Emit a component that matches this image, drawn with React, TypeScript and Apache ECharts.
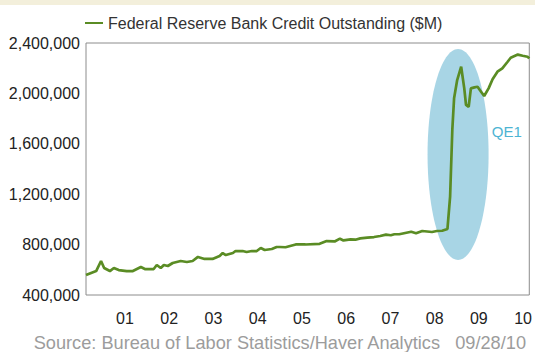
import React, { useEffect, useRef } from "react";
import * as echarts from "echarts";

const seriesName = "Federal Reserve Bank Credit Outstanding ($M)";
const sourceText = "Source: Bureau of Labor Statistics/Haver Analytics   09/28/10";
const yearTicks = [2001, 2002, 2003, 2004, 2005, 2006, 2007, 2008, 2009, 2010];

const years = [
  2000.12, 2000.25, 2000.35, 2000.46, 2000.53, 2000.66, 2000.75, 2000.86,
  2001.04, 2001.18, 2001.36, 2001.45, 2001.65, 2001.72, 2001.81, 2001.88, 2001.97,
  2002.08, 2002.26, 2002.4, 2002.53, 2002.65, 2002.8, 2002.98,
  2003.14, 2003.21, 2003.28, 2003.44, 2003.5, 2003.66, 2003.75, 2003.87, 2003.98,
  2004.07, 2004.16, 2004.32, 2004.43, 2004.5, 2004.63, 2004.86,
  2005.08, 2005.4, 2005.56, 2005.74, 2005.86, 2005.94,
  2006.1, 2006.21, 2006.32, 2006.48, 2006.63, 2006.77, 2006.9,
  2007.01, 2007.09, 2007.2, 2007.47, 2007.58, 2007.72, 2007.94,
  2008.05, 2008.17, 2008.29, 2008.35, 2008.4, 2008.44, 2008.51, 2008.6, 2008.67,
  2008.71, 2008.77, 2008.82, 2008.9, 2008.97,
  2009.05, 2009.12, 2009.22, 2009.31, 2009.42, 2009.53, 2009.65, 2009.72, 2009.88, 2009.99,
  2010.1, 2010.14,
];

const credit = [
  558000, 577000, 590000, 670000, 614000, 590000, 614000, 598000,
  590000, 590000, 622000, 606000, 606000, 638000, 614000, 638000, 630000,
  654000, 670000, 662000, 670000, 702000, 686000, 686000,
  710000, 733000, 717000, 733000, 749000, 749000, 741000, 749000, 749000,
  773000, 757000, 765000, 781000, 781000, 779000, 801000,
  801000, 806000, 828000, 825000, 847000, 833000,
  841000, 839000, 849000, 855000, 860000, 868000, 879000,
  874000, 882000, 882000, 902000, 890000, 908000, 900000,
  908000, 910000, 924000, 1180000, 1710000, 1961000, 2106000, 2212000, 2040000,
  1908000, 1894000, 2040000, 2048000, 2053000,
  2013000, 1979000, 2040000, 2112000, 2172000, 2199000, 2251000, 2283000, 2308000, 2299000,
  2291000, 2278000,
];

// QE1 highlight: centre (year, value), radii (years, value), label position
const qeEllipse = [2008.53, 1515000, 0.69, 837000];
const qeLabel = { text: "QE1", year: 2009.63, value: 1698000 };

export default function App() {
  const ref = useRef<HTMLDivElement>(null);

  useEffect(() => {
    if (!ref.current) return;
    const chart = echarts.init(ref.current, null, { renderer: "svg" });
    const lineData = years.map((y, i) => [y, credit[i]]);

    chart.setOption({
      animation: false,
      backgroundColor: "#ffffff",
      textStyle: { fontFamily: "Liberation Sans, Arial, sans-serif" },
      graphic: [
        {
          type: "rect",
          left: 0,
          top: 0,
          shape: { width: 535, height: 5 },
          style: { fill: "#f3efdb" },
          silent: true,
        },
        {
          type: "text",
          right: 8,
          top: 334,
          style: {
            text: sourceText,
            fill: "#9c9c9c",
            fontSize: 18.2,
            fontFamily: "Liberation Sans, Arial, sans-serif",
          },
        },
      ],
      legend: {
        data: [seriesName],
        left: 80,
        top: 10,
        icon: "rect",
        itemWidth: 18,
        itemHeight: 2,
        textStyle: { fontSize: 16, color: "#333333" },
      },
      grid: {
        left: 86,
        top: 43,
        width: 444,
        height: 252,
        show: true,
        borderColor: "#8c8c8c",
        borderWidth: 1,
        backgroundColor: "#ffffff",
      },
      xAxis: {
        type: "value",
        min: years[0],
        max: years[years.length - 1],
        axisLine: { show: false },
        axisTick: { show: false },
        splitLine: { show: false },
        axisLabel: {
          customValues: yearTicks,
          formatter: (v: number) => String(Math.round(v) % 100).padStart(2, "0"),
          fontSize: 16,
          color: "#222222",
          margin: 15,
        },
      },
      yAxis: {
        type: "value",
        min: 400000,
        max: 2400000,
        interval: 400000,
        axisLine: { show: false },
        axisTick: { show: false },
        splitLine: { show: false },
        axisLabel: {
          fontSize: 16,
          color: "#222222",
          margin: 6,
          formatter: (v: number) => v.toLocaleString("en-US"),
        },
      },
      series: [
        {
          type: "custom",
          z: 1,
          silent: true,
          data: [qeEllipse],
          renderItem: (params: any, api: any) => {
            const c = api.coord([api.value(0), api.value(1)]);
            const s = api.size([api.value(2), api.value(3)]);
            const lp = api.coord([qeLabel.year, qeLabel.value]);
            return {
              type: "group",
              children: [
                {
                  type: "ellipse",
                  shape: { cx: c[0], cy: c[1], rx: s[0], ry: s[1] },
                  style: { fill: "#a8d5e5" },
                },
                {
                  type: "text",
                  x: lp[0],
                  y: lp[1],
                  style: {
                    text: qeLabel.text,
                    fill: "#4db4d3",
                    fontSize: 15,
                    fontFamily: "Liberation Sans, Arial, sans-serif",
                    align: "center",
                    verticalAlign: "middle",
                  },
                },
              ],
            };
          },
        },
        {
          name: seriesName,
          type: "line",
          z: 3,
          data: lineData,
          symbol: "none",
          lineStyle: { color: "#5a8c24", width: 2.7 },
          itemStyle: { color: "#5a8c24" },
        },
      ],
    });
    return () => chart.dispose();
  }, []);

  return <div ref={ref} style={{ width: 535, height: 352, position: "absolute", left: 0, top: 0 }} />;
}
